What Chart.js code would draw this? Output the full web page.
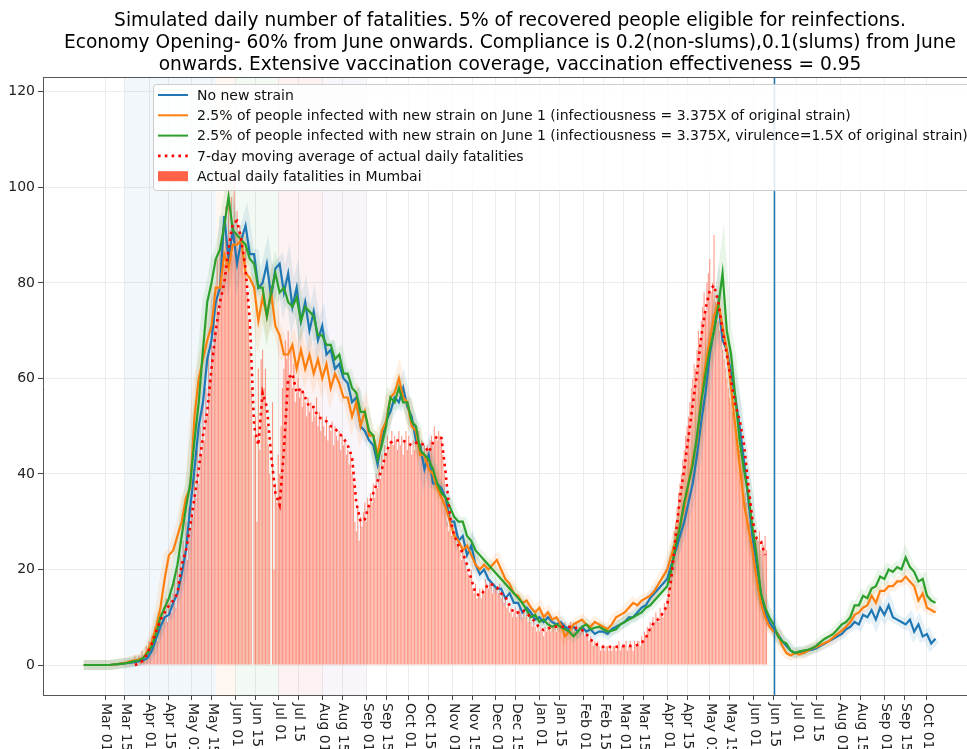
<!DOCTYPE html>
<html lang="en">
<head>
<meta charset="UTF-8" />
<title>Simulated daily fatalities - Mumbai</title>
<script src="https://cdn.jsdelivr.net/npm/chart.js"></script>
<style>
  body { margin: 0; background: #fff; }
  canvas { display: block; }
</style>
</head>
<body>
<canvas id="fatalityChart" width="967" height="749"></canvas>
<script>
// x tick labels (1st and 15th of each month)
const tickDates = [
  '2020-03-01','2020-03-15','2020-04-01','2020-04-15','2020-05-01','2020-05-15','2020-06-01','2020-06-15',
  '2020-07-01','2020-07-15','2020-08-01','2020-08-15','2020-09-01','2020-09-15','2020-10-01','2020-10-15',
  '2020-11-01','2020-11-15','2020-12-01','2020-12-15','2021-01-01','2021-01-15','2021-02-01','2021-02-15',
  '2021-03-01','2021-03-15','2021-04-01','2021-04-15','2021-05-01','2021-05-15','2021-06-01','2021-06-15',
  '2021-07-01','2021-07-15','2021-08-01','2021-08-15','2021-09-01','2021-09-15','2021-10-01'
];
const yTicks = [0, 20, 40, 60, 80, 100, 120];

// simulated series, one value every 3 days starting 2020-02-15
const simStart = '2020-02-15';
const simStep = 3;
const noNewStrain = [
  0,0,0,0,0,0,0,0.1,0.2,0.3,
  0.4,0.5,0.6,0.8,1.0,1.5,3,5.5,8,10,
  10.5,13,15,19,24,33,41,50,55,64,
  68,76,79,94,85,91,84,89,92,86,
  86,79,80,84,77,83,84,78,82,75,
  79,72,76,70,74,68,71,65,66,62,
  63,60,59,55,56,50,49,47,46,42,
  47,51,53,56,55,58,54,52,47,46,
  41,44,38,38,37,35,30,30,26,27,
  23,25,21,19,20,18,17,16,16,14,
  15,13,13,11,12,11,9.5,10,9,10,
  9,8.5,9,8,7.5,8,7,8,7,7.5,
  6.5,7,7,6.5,7.5,8,8.5,9,10,10,
  11,12,12.5,14,15,16,17,18,21,24,
  27,30,34,38,44,51,57,65,70,76,
  68,66,61,56,50,43,35,27,21,15,
  11,9,7.5,6.5,5,4,3,2.5,2.8,2.5,
  3,3.2,3.5,4,4.5,5,5.5,6,6.5,7.5,
  8,9,8.5,10.5,10,11.5,9.5,12,10.5,12.5,
  10,9.5,9,8.5,9.5,7,8.5,6,6.5,4.5,
  5.5
];
const newStrain = [
  0,0,0,0,0,0,0,0.1,0.2,0.4,
  0.5,0.8,1.0,1.2,1.5,3,5,8,12,18,
  23,24,27,30,35,37,52,60,64,68,
  71,79,79,86,83,88,88,89,82,81,
  79,72,77,73,78,71,69,65,65,67,
  62,66,62,65,61,64,60,63,58,61,
  59,56,56,52,55,50,53,48,48,44,
  49,51,56,57,60,56,55,50,49,44,
  44,41,40,37,35,33,30,27,26,24,
  25,23,21,20,21,20,21,22,20,18,
  17,15,14.5,13,13.5,12,11,12,10,11,
  9.5,10,8.5,6,7,8.5,9,9.5,8.5,8,
  9,8.5,8,7.5,8.5,10,10.5,11,12,13,
  12.5,13.5,14,14.5,15.5,17,18.5,20,23,26,
  29,33,38,43,47,56,63,68,73,76,
  71,66,58,50,42,34,29,24,18,13,
  10,8,7,6.5,4,2.5,2,2.5,2.2,2.5,
  3,3.5,3.8,4.2,4.6,5,5.8,6.5,7.2,8,
  9,10.5,11,12,12.5,14.5,13,15.5,15.5,16.5,
  16.5,17.5,17.5,18.5,17.5,16.5,13.5,15,12,11.5,
  11
];
const newStrainVirulent = [
  0,0,0,0,0,0,0,0.1,0.2,0.3,
  0.4,0.6,0.8,1.0,1.5,2.5,4,6.5,10,12,
  14,17,21,27,33,38,47,55,66,76,
  80,85,87,92,98,91,90,89,88,85,
  84,79,79,73,78,82,78,79,76,75,
  77,72,75,74,73,69,69,67,67,64,
  65,61,61,58,57,53,53,49,48,43,
  46,50,56,55,58,55,55,51,50,45,
  44,43,41,38,36,35,33,31,30,30,
  27,26,24,23,22,21,20,19,18,17,
  16,15,14,13,11.5,10,10.5,9,9.5,8.5,
  8,8.5,8,7.5,7,6,7,8,8.5,7.5,
  7.8,8,7.5,7,7.2,7.5,8.5,9,9.5,10,
  10.5,11,12,12.5,13.5,14.5,15.5,16.5,20,25,
  29,34,38,42,48,55,61,66,70,75,
  82,70,65,56,47,41,36,29,23,15,
  12,10,8.5,6,5,4.5,3,2.5,2.8,3,
  3.2,3.5,4,4.8,5.5,6,6.5,7.5,8.5,9,
  10,12.5,12.5,14.5,14,16,16.5,18.5,18,20,
  19.5,20.5,20,22.5,20.5,19.5,17.5,18,14.5,13.5,
  13
];

// 7-day moving average, one value every 3 days starting 2020-03-22
const maStart = '2020-03-22';
const maStep = 3;
const movingAvg = [
  0,0.3,1,2.5,4.5,7,9.4,11,12.5,13.5,
  15,21,24,29,35,41,48,53,62,70,
  76,80,87,92.5,93,89,83,72,50,46,
  57,54,44,36,33.5,45,60,61,57,58,
  56,54,54,52,51.5,51,50,49.5,48.5,47.5,
  46,43.5,34,30,30.5,33.5,36,38.5,41,44.5,
  46.5,47,47,47,46.5,46,46.5,46.5,46,44.5,
  46.5,48,47.5,40,31,27,25,23.5,21,18,
  15,14.5,15.5,17,16.8,16.3,15,14.3,12.5,10.9,
  11,11.5,10.8,10,9,7.8,7.3,7.6,8,8,
  8,8,8,8,7.6,7.3,6.5,5.4,4.5,4,
  3.8,3.8,3.8,3.8,3.9,4,4,4,4.2,4.6,
  5.7,7.7,9,9.6,10.9,12.5,18.4,27,35,41,
  47.7,54.5,61,68.7,74.5,78.5,79.5,76,70,65,
  59.5,54.5,51.3,46.5,38,30.5,26.5,25.8,23
];

// actual daily fatalities in Mumbai, daily from 2020-03-17
const actualStart = '2020-03-17';
const actualDaily = [
  0,1,0,1,0,2,1,0,2,1,
  3,2,1,4,3,5,2,6,4,8,
  7,5,9,11,8,12,10,14,9,13,
  16,11,15,18,12,20,17,23,19,26,
  24,30,22,33,28,36,31,40,35,45,
  38,50,44,55,47,58,52,65,60,72,
  66,78,70,85,74,88,80,92,84,96,
  88,100,91,98,86,104,90,95,85,92,
  90,86,82,88,78,72,66,58,0,48,
  52,30,62,45,64,66,58,62,50,46,
  40,0,55,20,38,34,44,40,50,58,
  62,68,64,70,60,66,58,63,55,57,
  60,56,58,54,57,55,52,56,53,55,
  51,54,52,56,50,53,49,52,50,48,
  52,47,50,49,51,46,50,48,47,49,
  45,48,46,47,44,45,42,44,40,38,
  30,28,33,26,31,29,32,34,30,35,
  33,36,34,38,35,40,37,42,39,44,
  42,46,44,48,45,47,49,46,48,47,
  45,49,46,48,44,47,49,45,48,46,
  44,47,45,48,46,49,45,47,44,46,
  43,46,44,47,48,46,50,48,47,49,
  48,47,44,40,35,30,28,32,27,29,
  26,28,25,27,24,22,25,23,21,20,
  19,18,20,16,15,17,14,15,16,14,
  16,15,18,17,16,18,17,15,17,16,
  16,15,17,14,15,13,14,12,13,11,
  12,10,11,12,10,11,12,11,10,11,
  10,11,9,10,9,8,9,8,7,8,
  7,8,7,6,8,7,8,9,7,8,
  8,9,7,8,9,8,7,8,9,8,
  7,8,9,8,7,8,9,7,8,7,
  7,8,6,7,6,5,6,5,4,5,
  4,5,4,3,4,4,3,4,4,3,
  4,3,4,4,3,4,5,3,4,4,
  4,5,3,4,5,4,3,5,4,5,
  5,4,6,5,7,6,8,7,9,8,
  10,9,11,10,9,12,11,10,13,12,
  14,16,20,22,25,28,30,33,36,38,
  40,43,45,48,50,52,55,58,60,63,
  62,66,70,68,72,75,78,74,80,82,
  85,78,80,90,76,74,72,70,68,66,
  64,62,60,58,56,55,53,52,50,48,
  46,45,44,42,40,36,34,32,30,28,
  26,28,25,27,26,28,24,26,25,27,
  24
];

// shaded policy phases
const phaseStarts = ['2020-03-15', '2020-05-18', '2020-06-01', '2020-07-01', '2020-08-01'];
const phaseEnds   = ['2020-05-18', '2020-06-01', '2020-07-01', '2020-08-01', '2020-09-01'];
const phaseColors = ['rgba(31,119,180,0.06)', 'rgba(255,127,14,0.06)', 'rgba(44,160,44,0.06)',
                     'rgba(214,39,40,0.06)', 'rgba(148,103,189,0.06)'];
const markerDate = '2021-06-15';

const titleLines = [
  'Simulated daily number of fatalities. 5% of recovered people eligible for reinfections.',
  'Economy Opening- 60% from June onwards. Compliance is 0.2(non-slums),0.1(slums) from June',
  'onwards. Extensive vaccination coverage, vaccination effectiveness = 0.95'
];
const legendLabels = [
  'No new strain',
  '2.5% of people infected with new strain on June 1 (infectiousness = 3.375X of original strain)',
  '2.5% of people infected with new strain on June 1 (infectiousness = 3.375X, virulence=1.5X of original strain)',
  '7-day moving average of actual daily fatalities',
  'Actual daily fatalities in Mumbai'
];

// ---- helpers ----
const ORIGIN = Date.UTC(2020, 2, 1);
const dayOf = s => (Date.parse(s + 'T00:00:00Z') - ORIGIN) / 864e5;
const MONTHS = ['Jan','Feb','Mar','Apr','May','Jun','Jul','Aug','Sep','Oct','Nov','Dec'];
const labelOf = s => MONTHS[+s.slice(5, 7) - 1] + ' ' + s.slice(8, 10);
const points = (start, step, values) => values.map((v, i) => ({ x: dayOf(start) + i * step, y: v }));

const FONT = "'DejaVu Sans', 'Liberation Sans', sans-serif";
const BLUE = '#1f77b4', ORANGE = '#ff7f0e', GREEN = '#2ca02c';

function simLine(values, color, order) {
  return { type: 'line', data: points(simStart, simStep, values), borderColor: color,
           borderWidth: 2.2, pointRadius: 0, tension: 0, fill: false, order: order };
}
function simBand(values, rgb, order) {
  return { type: 'line', data: points(simStart, simStep, values), borderColor: 'rgba(' + rgb + ',0.11)',
           borderWidth: 10, pointRadius: 0, tension: 0, fill: false, order: order };
}

const decor = {
  id: 'decor',
  beforeDatasetsDraw(chart) {
    const { ctx, chartArea: a, scales: { x } } = chart;
    ctx.save();
    phaseStarts.forEach((s, i) => {
      const x0 = x.getPixelForValue(dayOf(s));
      const x1 = x.getPixelForValue(dayOf(phaseEnds[i]));
      ctx.fillStyle = phaseColors[i];
      ctx.fillRect(x0, a.top, x1 - x0, a.bottom - a.top);
    });
    ctx.restore();
  },
  afterDatasetsDraw(chart) {
    const { ctx, chartArea: a, scales: { x } } = chart;
    ctx.save();
    // vertical marker
    const mx = Math.round(x.getPixelForValue(dayOf(markerDate))) + 0.5;
    ctx.strokeStyle = BLUE;
    ctx.lineWidth = 1.5;
    ctx.beginPath(); ctx.moveTo(mx, a.top); ctx.lineTo(mx, a.bottom); ctx.stroke();
    // top spine
    ctx.strokeStyle = '#555';
    ctx.lineWidth = 1;
    ctx.beginPath(); ctx.moveTo(a.left, a.top + 0.5); ctx.lineTo(a.right, a.top + 0.5); ctx.stroke();

    // legend
    const lx = 153, ly = 84, lw = 830, lh = 106;
    ctx.fillStyle = 'rgba(255,255,255,0.85)';
    ctx.strokeStyle = '#cccccc';
    ctx.beginPath();
    ctx.roundRect(lx + 0.5, ly + 0.5, lw, lh, 3);
    ctx.fill(); ctx.stroke();
    const rowY = [95, 115.3, 135.6, 155.9, 176.2];
    const colors = [BLUE, ORANGE, GREEN];
    ctx.font = '14px ' + FONT;
    ctx.textBaseline = 'middle';
    ctx.textAlign = 'left';
    rowY.forEach((y, i) => {
      if (i < 3) {
        ctx.strokeStyle = colors[i]; ctx.lineWidth = 2; ctx.setLineDash([]);
        ctx.beginPath(); ctx.moveTo(158, y); ctx.lineTo(188, y); ctx.stroke();
      } else if (i === 3) {
        ctx.strokeStyle = 'red'; ctx.lineWidth = 2.6; ctx.setLineDash([2.6, 4.2]);
        ctx.beginPath(); ctx.moveTo(158, y); ctx.lineTo(188, y); ctx.stroke();
        ctx.setLineDash([]);
      } else {
        ctx.fillStyle = 'tomato';
        ctx.fillRect(158, y - 5, 30, 10);
      }
      ctx.fillStyle = '#111';
      ctx.fillText(legendLabels[i], 197, y + 1);
    });
    ctx.restore();
  },
  afterDraw(chart) {
    const { ctx, chartArea: a, scales: { x } } = chart;
    ctx.save();
    // rotated x tick labels, reading top to bottom
    ctx.font = '14px ' + FONT;
    ctx.fillStyle = '#222';
    ctx.textAlign = 'left';
    ctx.textBaseline = 'middle';
    tickDates.forEach(s => {
      const px = x.getPixelForValue(dayOf(s));
      ctx.save();
      ctx.translate(px + 1, a.bottom + 8);
      ctx.rotate(Math.PI / 2);
      ctx.fillText(labelOf(s), 0, 0);
      ctx.restore();
    });
    // title
    ctx.font = '18.6px ' + FONT;
    ctx.fillStyle = '#000';
    ctx.textAlign = 'center';
    [21, 43.5, 65].forEach((y, i) => ctx.fillText(titleLines[i], 510, y));
    ctx.restore();
  }
};

new Chart(document.getElementById('fatalityChart'), {
  type: 'line',
  data: {
    datasets: [
      { type: 'line', data: points(maStart, maStep, movingAvg), borderColor: 'red', borderWidth: 2.6,
        borderDash: [2.6, 4.2], pointRadius: 0, tension: 0, fill: false, order: 0 },
      simLine(newStrainVirulent, GREEN, 1),
      simLine(newStrain, ORANGE, 2),
      simLine(noNewStrain, BLUE, 3),
      simBand(newStrainVirulent, '44,160,44', 4),
      simBand(newStrain, '255,127,14', 5),
      simBand(noNewStrain, '31,119,180', 6),
      { type: 'bar', data: points(actualStart, 1, actualDaily), backgroundColor: 'rgba(255,99,71,0.66)',
        barPercentage: 0.75, categoryPercentage: 1, order: 10 }
    ]
  },
  options: {
    responsive: false,
    animation: false,
    layout: { padding: { top: 77, left: 0, right: 0, bottom: 0 } },
    plugins: { legend: { display: false }, tooltip: { enabled: false }, title: { display: false } },
    scales: {
      x: {
        type: 'linear', min: -43.7, max: 607.2, offset: false,
        grid: { color: '#ececec', tickColor: '#444', tickLength: 5, drawTicks: true, offset: false },
        border: { display: true, color: '#555', width: 1 },
        ticks: { display: false },
        afterBuildTicks: s => { s.ticks = tickDates.map(d => ({ value: dayOf(d) })); },
        afterFit: s => { s.height = 54; }
      },
      y: {
        min: -6.28, max: 123.1,
        grid: { color: '#ececec', tickColor: '#444', tickLength: 5, drawTicks: true },
        border: { display: true, color: '#555', width: 1 },
        ticks: { font: { family: FONT, size: 14 }, color: '#222', padding: 3 },
        afterBuildTicks: s => { s.ticks = yTicks.map(v => ({ value: v })); },
        afterFit: s => { s.width = 43; }
      }
    }
  },
  plugins: [decor]
});
</script>
</body>
</html>
